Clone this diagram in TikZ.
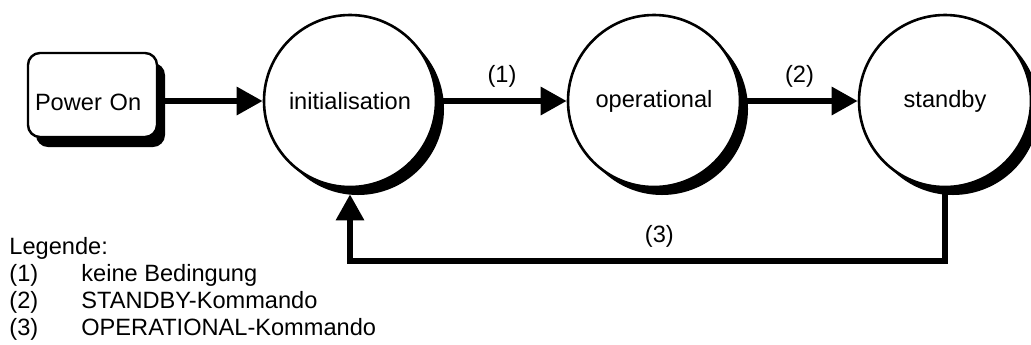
\documentclass[tikz,border=0pt]{standalone}
\usepackage{fontspec}
\setmainfont{Liberation Sans}
\usetikzlibrary{shadows,arrows.meta}

\begin{document}
\begin{tikzpicture}[x=0.5pt,y=-0.5pt,font=\fontsize{11.8}{13.5}\selectfont,
state/.style={draw, circle, fill=white, line width=1.3pt, minimum size=86pt, inner sep=0pt, drop shadow={shadow xshift=4pt, shadow yshift=-4pt, fill=black, opacity=1}},
startbox/.style={draw, rectangle, rounded corners=6pt, fill=white, line width=1.2pt, minimum width=64.5pt, minimum height=42pt, inner xsep=3.5pt, text width=57.5pt, align=left, text height=16pt, text depth=1pt, drop shadow={shadow xshift=4pt, shadow yshift=-5pt, fill=black, opacity=1}},
flow/.style={line width=3pt, -{Triangle[length=13pt,width=13.5pt]}},
cond/.style={above=2pt}]
\useasboundingbox (0,0) rectangle (1031,344);
\node[startbox] (power) at (92.5,95) {Power On};
\node[state] (init) at (350,101) {initialisation};
\node[state, right of=init, node distance=152pt] (oper) {operational};
\node[state, right of=oper, node distance=145.5pt] (stand) {standby};
\coordinate (back) at (350,261);
\draw[flow] (power.east |- init.west) -- (init.west);
\draw[flow] (init.east) -- node[cond] {(1)} (oper.west);
\draw[flow] (oper.east) -- node[cond] {(2)} (stand.west);
\draw[flow] (stand.south) |- node[cond, pos=.74] {(3)} (back) -- ([yshift=-3pt]init.south);
\node[anchor=north west, inner sep=0pt] (legend) at (9,235) {\begin{tabular}{@{}p{36pt}@{}l@{}}
\multicolumn{2}{@{}l@{}}{Legende:}\\
(1) & keine Bedingung\\
(2) & STANDBY-Kommando\\
(3) & OPERATIONAL-Kommando
\end{tabular}};
\end{tikzpicture}
\end{document}
